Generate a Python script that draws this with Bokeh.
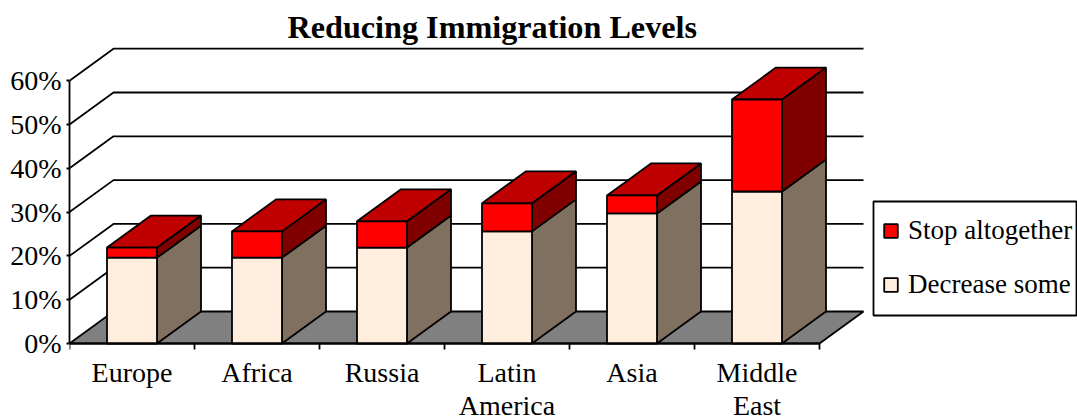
from bokeh.embed import file_html
from bokeh.models import BoxAnnotation, FixedTicker, Legend, LegendItem, PrintfTickFormatter, Range1d
from bokeh.plotting import figure
from bokeh.resources import INLINE

# --- data ---
categories = ["Europe", "Africa", "Russia", "Latin\nAmerica", "Asia", "Middle\nEast"]
decrease_some = [19.6, 19.6, 21.9, 25.6, 29.7, 34.7]
stop_altogether = [2.3, 6.0, 6.0, 6.4, 4.1, 21.0]
y_ticks = [0, 10, 20, 30, 40, 50, 60]
title_text = "Reducing Immigration Levels"

# --- 3D-look projection constants (in axis units) ---
DX = 0.352
DY = 7.3
BAR_W = 0.4
FONT = "Liberation Serif"
N = len(categories)
LW = 1.8

p = figure(
    width=1077, height=420, output_backend="svg", toolbar_location=None,
    x_range=Range1d(0, 8.064), y_range=Range1d(-17.58, 68.26),
    min_border_left=69, min_border_right=0, min_border_bottom=0, min_border_top=44,
)
p.outline_line_color = None
p.background_fill_color = "white"
p.grid.visible = False

p.title.text = title_text
p.title.text_font = FONT
p.title.text_font_size = "32.2px"
p.title.text_font_style = "bold"
p.title.text_color = "black"
p.title.align = "left"
p.title.offset = 218
p.title.standoff = 0

# axes
ya = p.yaxis[0]
ya.ticker = FixedTicker(ticks=y_ticks)
ya.formatter = PrintfTickFormatter(format="%d%%")
ya.bounds = (0, 60)
ya.major_tick_out = 3
ya.major_tick_in = 0
ya.minor_tick_out = 0
ya.minor_tick_in = 0
ya.major_label_standoff = 5
ya.major_label_text_font = FONT
ya.major_label_text_font_size = "28px"
ya.major_label_text_color = "black"
ya.axis_line_color = "black"
ya.axis_line_width = LW
ya.major_tick_line_width = LW

centers = [i + 0.5 for i in range(N)]
xa = p.xaxis[0]
xa.fixed_location = 0
xa.ticker = FixedTicker(ticks=centers, minor_ticks=list(range(N + 1)))
xa.major_label_overrides = dict(zip(centers, categories))
xa.bounds = (0, N)
xa.major_tick_out = 0
xa.major_tick_in = 0
xa.minor_tick_out = 6
xa.minor_tick_in = 0
xa.major_label_standoff = 8
xa.major_label_text_font = FONT
xa.major_label_text_font_size = "28px"
xa.major_label_text_line_height = 1.05
xa.major_label_text_color = "black"
xa.axis_line_color = "black"
xa.axis_line_width = LW
xa.minor_tick_line_width = LW

# back wall gridlines and left side diagonals
grid_xs, grid_ys = [], []
for t in y_ticks[1:]:
    grid_xs.append([0, DX, N + DX])
    grid_ys.append([t, t + DY, t + DY])
p.multi_line(grid_xs, grid_ys, line_color="black", line_width=LW)

# floor
p.patch([0, DX, N + DX, N], [0, DY, DY, 0], fill_color="#808080",
        line_color="black", line_width=LW)

# bars
legend_items = {}
for i in range(N):
    x0, x1 = centers[i] - BAR_W / 2, centers[i] + BAR_W / 2
    a = decrease_some[i]
    b = a + stop_altogether[i]
    p.patch([x1, x1 + DX, x1 + DX, x1], [0, DY, a + DY, a], fill_color="#807060",
            line_color="black", line_width=LW)
    p.patch([x1, x1 + DX, x1 + DX, x1], [a, a + DY, b + DY, b], fill_color="#800000",
            line_color="black", line_width=LW)
    p.patch([x0, x0 + DX, x1 + DX, x1], [b, b + DY, b + DY, b], fill_color="#C00000",
            line_color="black", line_width=LW)
    r1 = p.quad(left=x0, right=x1, bottom=0, top=a, fill_color="#FFEEDD",
                line_color="black", line_width=LW)
    r2 = p.quad(left=x0, right=x1, bottom=a, top=b, fill_color="#FF0000",
                line_color="black", line_width=LW)
    legend_items["Decrease some"] = r1
    legend_items["Stop altogether"] = r2

# legend frame (separate from the entries so the rows can sit as in the reference)
p.add_layout(BoxAnnotation(
    left=804, right=1007, top=105, bottom=219,
    left_units="screen", right_units="screen", top_units="screen", bottom_units="screen",
    fill_color="white", fill_alpha=1, line_color="black", line_alpha=1, line_width=LW,
))

legend = Legend(
    items=[LegendItem(label="Stop altogether", renderers=[legend_items["Stop altogether"]]),
           LegendItem(label="Decrease some", renderers=[legend_items["Decrease some"]])],
    location=(813, 120),
    orientation="vertical",
    border_line_color=None,
    background_fill_alpha=0,
    glyph_width=17, glyph_height=17, label_standoff=9,
    label_text_font=FONT, label_text_font_size="27px", label_text_color="black",
    label_height=30, spacing=23, padding=0, margin=0,
)
p.add_layout(legend)

open("out.html", "w").write(file_html(p, INLINE))
